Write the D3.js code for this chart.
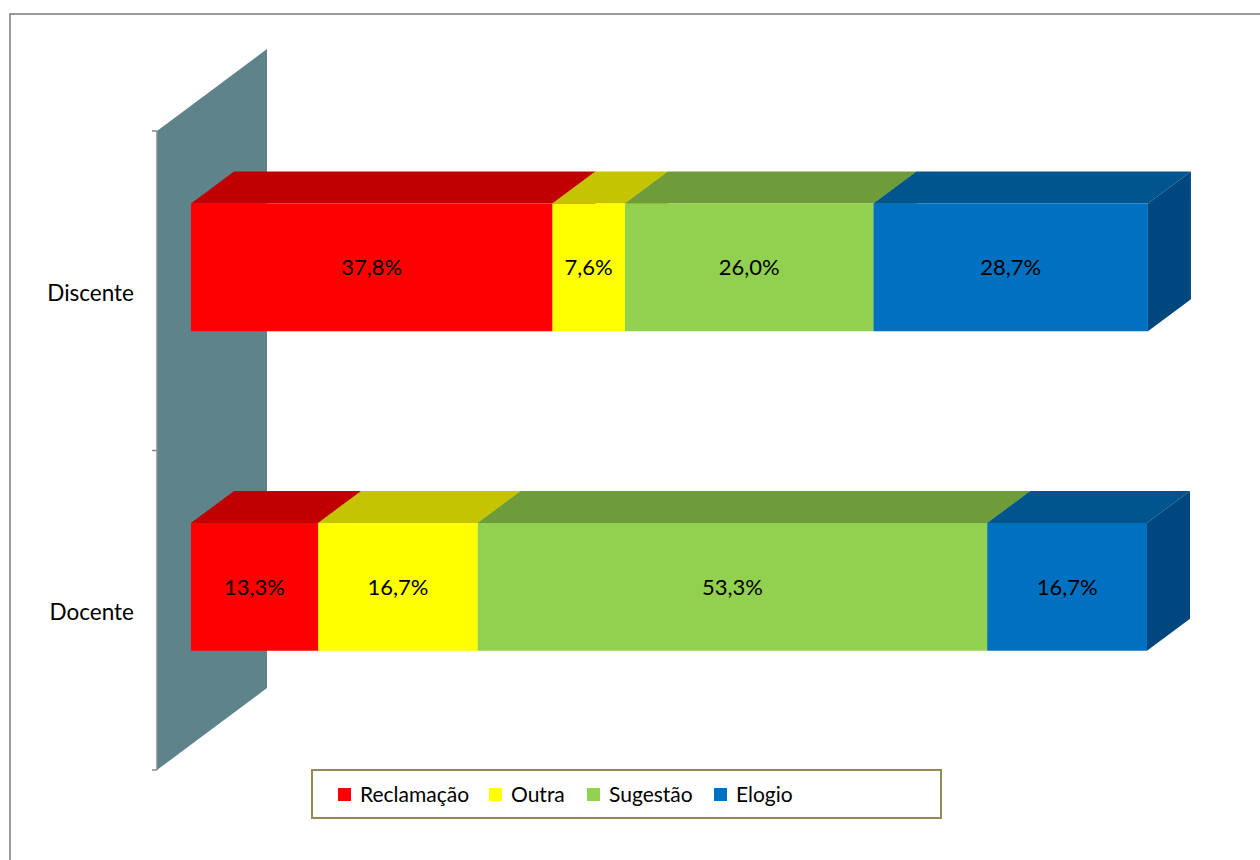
<!DOCTYPE html>
<html>
<head>
<meta charset="utf-8">
<script src="https://cdn.jsdelivr.net/npm/d3@7"></script>
<style>
  body { margin: 0; background: #fff; }
  svg { display: block; font-family: Lato, "Open Sans", sans-serif; }
</style>
</head>
<body>
<svg id="chart" width="1260" height="860"></svg>
<script>
const categories = ["Discente", "Docente"];
const seriesNames = ["Reclamação", "Outra", "Sugestão", "Elogio"];
const discenteValues = [37.8, 7.6, 26.0, 28.7];
const docenteValues = [13.3, 16.7, 53.3, 16.7];
const valueLabels = [
  ["37,8%", "7,6%", "26,0%", "28,7%"],
  ["13,3%", "16,7%", "53,3%", "16,7%"],
];

const frontColors = ["#ff0000", "#ffff00", "#92d050", "#0070c0"];
const topColors = ["#c00000", "#c4c400", "#6e9c3b", "#00558f"];
const sideColors = ["#a80000", "#aaaa00", "#5f8a32", "#00477f"];

const rows = [discenteValues, docenteValues];

const svg = d3.select("#chart");

// outer frame
svg.append("rect")
  .attr("x", 10).attr("y", 14)
  .attr("width", 1300).attr("height", 900)
  .attr("fill", "none").attr("stroke", "#9a9a9a").attr("stroke-width", 2);

// 3d projection: depth vector of the floor
const wallX = 157;
const wallTop = 131, wallBot = 770;
const depth = { dx: 110, dy: -82 };
const t1 = 0.309, t2 = 0.70; // bar depth range

const x = d3.scaleLinear().domain([0, 100]).range([wallX, wallX + 956]);
const y = d3.scaleBand()
  .domain(categories)
  .range([wallTop + 2, wallBot + 2])
  .paddingInner(0.6)
  .paddingOuter(0.3);

const p = (px, py, t) => [px + depth.dx * t, py + depth.dy * t];
const poly = (pts) => "M" + pts.map((d) => d.join(",")).join("L") + "Z";

// back wall
svg.append("path")
  .attr("d", poly([p(wallX, wallTop, 0), p(wallX, wallTop, 1), p(wallX, wallBot, 1), p(wallX, wallBot, 0)]))
  .attr("fill", "#5f838a");

// axis line and ticks
svg.append("line")
  .attr("x1", wallX).attr("x2", wallX)
  .attr("y1", wallTop).attr("y2", wallBot)
  .attr("stroke", "#8a8a8a").attr("stroke-width", 1.5);
const tickYs = [wallTop, (wallTop + wallBot) / 2, wallBot];
svg.selectAll(".tick")
  .data(tickYs)
  .enter()
  .append("line")
  .attr("x1", wallX - 5).attr("x2", wallX)
  .attr("y1", (d) => d).attr("y2", (d) => d)
  .attr("stroke", "#8a8a8a").attr("stroke-width", 1.5);

// category labels
svg.selectAll(".cat")
  .data(categories)
  .enter()
  .append("text")
  .attr("x", 134)
  .attr("y", (d) => y(d) + y.bandwidth() / 2 + 8)
  .attr("text-anchor", "end")
  .attr("font-size", 22.5)
  .attr("fill", "#000")
  .text((d) => d);

// bars
categories.forEach((cat, ci) => {
  const vals = rows[ci];
  const top = y(cat), bot = y(cat) + y.bandwidth();
  let acc = 0;
  const g = svg.append("g");
  vals.forEach((v, si) => {
    const a = acc, b = acc + v;
    acc = b;
    const xa = x(a), xb = x(b);
    g.append("path")
      .attr("d", poly([p(xa, top, t1), p(xa, top, t2), p(xb, top, t2), p(xb, top, t1)]))
      .attr("fill", topColors[si]);
    g.append("path")
      .attr("d", poly([p(xb, top, t1), p(xb, top, t2), p(xb, bot, t2), p(xb, bot, t1)]))
      .attr("fill", sideColors[si]);
    g.append("path")
      .attr("d", poly([p(xa, top, t1), p(xb, top, t1), p(xb, bot, t1), p(xa, bot, t1)]))
      .attr("fill", frontColors[si]);
    const c = p((xa + xb) / 2, (top + bot) / 2, t1);
    g.append("text")
      .attr("x", c[0])
      .attr("y", c[1] + 8)
      .attr("text-anchor", "middle")
      .attr("font-size", 22)
      .attr("fill", "#000")
      .text(valueLabels[ci][si]);
  });
});

// legend
const legend = svg.append("g");
legend.append("rect")
  .attr("x", 312).attr("y", 770)
  .attr("width", 629).attr("height", 48)
  .attr("fill", "#fff").attr("stroke", "#948a54").attr("stroke-width", 2);
const legendX = [338, 489, 587, 714];
seriesNames.forEach((name, i) => {
  legend.append("rect")
    .attr("x", legendX[i]).attr("y", 788)
    .attr("width", 13).attr("height", 13)
    .attr("fill", frontColors[i]);
  legend.append("text")
    .attr("x", legendX[i] + 22).attr("y", 802)
    .attr("font-size", 21)
    .attr("fill", "#000")
    .text(name);
});
</script>
</body>
</html>
